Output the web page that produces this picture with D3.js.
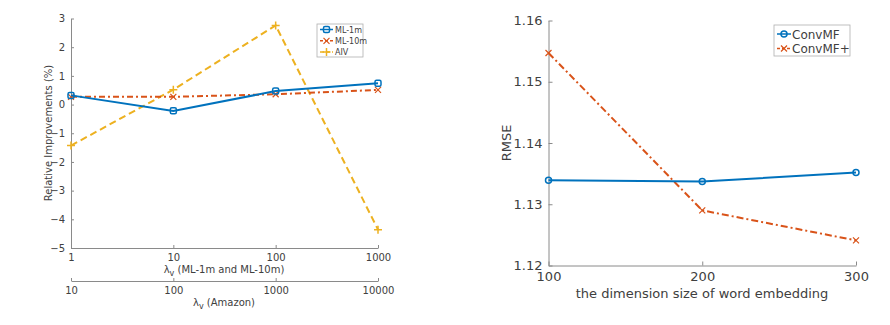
<!DOCTYPE html>
<html>
<head>
<script src="https://d3js.org/d3.v7.min.js"></script>
<style>
  body { margin: 0; background: #fff; }
  text { font-family: "DejaVu Sans", sans-serif; fill: #404040; }
</style>
</head>
<body>
<svg width="890" height="325"></svg>
<script>
// left chart data
var lambdaML = [1, 10, 100, 1000];
var lambdaAmazon = [10, 100, 1000, 10000];
var ml1m = [0.32, -0.22, 0.47, 0.74];
var ml10m = [0.27, 0.27, 0.36, 0.51];
var aiv = [-1.43, 0.52, 2.76, -4.36];
var leftYTicks = [-5, -4, -3, -2, -1, 0, 1, 2, 3];

// right chart data
var dims = [100, 200, 300];
var convmf = [1.1339, 1.1337, 1.1352];
var convmfPlus = [1.1547, 1.1290, 1.1241];
var rightYTicks = [1.12, 1.13, 1.14, 1.15, 1.16];

var blue = "#0072BD", orange = "#D95319", yellow = "#EDB120";
var axisColor = "#8a8a8a";
var svg = d3.select("svg");

function styleAxis(g, fs) {
  g.select(".domain").attr("stroke", axisColor);
  g.selectAll(".tick line").attr("stroke", axisColor);
  g.selectAll(".tick text").style("font-size", fs + "px").attr("fill", "#404040");
}

function lambdaLabel(g, x, y, rest, fs) {
  var t = g.append("text").attr("x", x).attr("y", y)
    .attr("text-anchor", "middle").style("font-size", fs + "px");
  t.append("tspan").text("λ");
  t.append("tspan").attr("dy", 3).style("font-size", (fs - 2) + "px").text("v");
  t.append("tspan").attr("dy", -3).text(" " + rest);
}

function marker(g, type, x, y, color) {
  if (type == "square") {
    g.append("rect").attr("x", x - 3).attr("y", y - 3).attr("width", 6).attr("height", 6)
      .attr("rx", 1.5).attr("fill", "none").attr("stroke", color).attr("stroke-width", 1.5);
  } else if (type == "circle") {
    g.append("circle").attr("cx", x).attr("cy", y).attr("r", 3)
      .attr("fill", "none").attr("stroke", color).attr("stroke-width", 1.5);
  } else if (type == "x") {
    g.append("path").attr("d", "M" + (x - 3) + "," + (y - 3) + "L" + (x + 3) + "," + (y + 3) +
      "M" + (x - 3) + "," + (y + 3) + "L" + (x + 3) + "," + (y - 3))
      .attr("stroke", color).attr("stroke-width", 1.2);
  } else if (type == "plus") {
    g.append("path").attr("d", "M" + (x - 4) + "," + y + "L" + (x + 4) + "," + y +
      "M" + x + "," + (y - 4) + "L" + x + "," + (y + 4))
      .attr("stroke", color).attr("stroke-width", 1.5);
  }
}

function series(g, xs, ys, x, y, color, dash, mk) {
  var line = d3.line().x(function(d, i) { return x(xs[i]); }).y(function(d) { return y(d); });
  g.append("path").attr("d", line(ys)).attr("fill", "none").attr("stroke", color)
    .attr("stroke-width", 2).attr("stroke-dasharray", dash);
  ys.forEach(function(v, i) { marker(g, mk, x(xs[i]), y(v), color); });
}

// ---------- left chart ----------
var L = svg.append("g");
var xL = d3.scaleLog().domain([1, 1000]).range([71, 378]);
var xA = d3.scaleLog().domain([10, 10000]).range([71, 378]);
var yL = d3.scaleLinear().domain([-5, 3]).range([248, 18.5]);

L.append("g").attr("transform", "translate(0,248)")
  .call(d3.axisBottom(xL).tickValues(lambdaML).tickFormat(d3.format("d")).tickSizeInner(-3).tickSizeOuter(0).tickPadding(6))
  .call(styleAxis, 10);
L.append("g").attr("transform", "translate(71,0)")
  .call(d3.axisLeft(yL).tickValues(leftYTicks).tickFormat(d3.format("d")).tickSizeInner(-3).tickSizeOuter(0).tickPadding(6))
  .call(styleAxis, 10);
L.append("g").attr("transform", "translate(0,281)")
  .call(d3.axisBottom(xA).tickValues(lambdaAmazon).tickFormat(d3.format("d")).tickSizeInner(-3).tickSizeOuter(0).tickPadding(6))
  .call(styleAxis, 10);

lambdaLabel(L, 224, 273, "(ML-1m and ML-10m)", 10);
lambdaLabel(L, 224, 306, "(Amazon)", 10);
L.append("text").attr("transform", "translate(52,133) rotate(-90)")
  .attr("text-anchor", "middle").style("font-size", "10px").text("Relative Improvements (%)");

series(L, lambdaML, aiv, xL, yL, yellow, "7,4", "plus");
series(L, lambdaML, ml10m, xL, yL, orange, "6,3,2,3", "x");
series(L, lambdaML, ml1m, xL, yL, blue, null, "square");

// legend left
var legL = L.append("g");
legL.append("rect").attr("x", 317).attr("y", 24).attr("width", 46).attr("height", 33)
  .attr("fill", "#fff").attr("stroke", "#b0b0b0").attr("stroke-width", 0.8);
var legLItems = [["ML-1m", blue, null, "square"], ["ML-10m", orange, "3,2", "x"], ["AIV", yellow, "4,2", "plus"]];
legLItems.forEach(function(d, i) {
  var yy = 29.5 + i * 11.3;
  legL.append("line").attr("x1", 320).attr("x2", 333).attr("y1", yy).attr("y2", yy)
    .attr("stroke", d[1]).attr("stroke-width", 1.5).attr("stroke-dasharray", d[2]);
  marker(legL, d[3], 326.5, yy, d[1]);
  legL.append("text").attr("x", 335).attr("y", yy + 3).style("font-size", "8px").text(d[0]);
});

// ---------- right chart ----------
var R = svg.append("g");
var xR = d3.scaleLinear().domain([100, 300]).range([548.5, 856]);
var yR = d3.scaleLinear().domain([1.12, 1.16]).range([265.5, 20.5]);

R.append("g").attr("transform", "translate(0,265.5)")
  .call(d3.axisBottom(xR).tickValues(dims).tickSizeInner(-4).tickSizeOuter(0).tickPadding(6))
  .call(styleAxis, 13);
R.append("g").attr("transform", "translate(548.5,0)")
  .call(d3.axisLeft(yR).tickValues(rightYTicks).tickFormat(d3.format(".2f")).tickSizeInner(-4).tickSizeOuter(0).tickPadding(6))
  .call(styleAxis, 13);

R.append("text").attr("x", 702).attr("y", 298).attr("text-anchor", "middle")
  .style("font-size", "13px").text("the dimension size of word embedding");
R.append("text").attr("transform", "translate(511,143) rotate(-90)")
  .attr("text-anchor", "middle").style("font-size", "13px").text("RMSE");

series(R, dims, convmfPlus, xR, yR, orange, "7,3,2,3", "x");
series(R, dims, convmf, xR, yR, blue, null, "circle");

// legend right
var legR = R.append("g");
legR.append("rect").attr("x", 774).attr("y", 25).attr("width", 76).attr("height", 31)
  .attr("fill", "#fff").attr("stroke", "#b0b0b0").attr("stroke-width", 0.8);
var legRItems = [["ConvMF", blue, null, "circle"], ["ConvMF+", orange, "3,2", "x"]];
legRItems.forEach(function(d, i) {
  var yy = 34 + i * 14.5;
  legR.append("line").attr("x1", 777).attr("x2", 791).attr("y1", yy).attr("y2", yy)
    .attr("stroke", d[1]).attr("stroke-width", 1.5).attr("stroke-dasharray", d[2]);
  marker(legR, d[3], 784, yy, d[1]);
  legR.append("text").attr("x", 792).attr("y", yy + 4.5).style("font-size", "12px").text(d[0]);
});
</script>
</body>
</html>
